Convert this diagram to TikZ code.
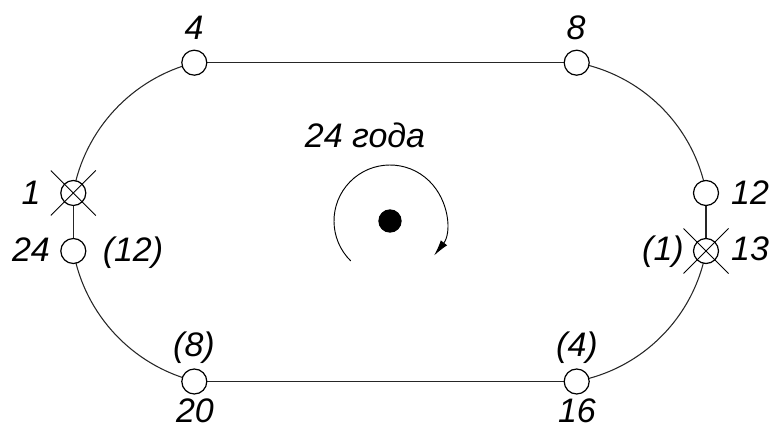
\documentclass[tikz,border=0pt]{standalone}
\usepackage{fontspec}
\setmainfont{Liberation Sans}
\usetikzlibrary{arrows.meta}
\begin{document}
\begin{tikzpicture}[x=0.75pt,y=0.75pt,
  track/.style={line width=0.8pt, black!85},
  stn/.style={circle, draw, fill=white, line width=0.9pt, minimum size=18.75pt, inner sep=0pt},
  xline/.style={line width=0.6pt},
  lbl/.style={anchor=base, inner sep=0pt, font=\fontsize{25.5}{30}\selectfont\itshape}]
\useasboundingbox (0,0) rectangle (772,429);
% station positions
\coordinate (c4) at (194.3,366.3);
\coordinate (c8) at (576.7,366.3);
\coordinate (c1) at (73.3,236);
\coordinate (c24) at (73.3,178);
\coordinate (c20) at (194.3,47.5);
\coordinate (c16) at (576.7,47.5);
\coordinate (c12) at (706,236);
\coordinate (c13) at (706,178);
% track
\draw[track] (c4) -- (c8);
\draw[track] (c20) -- (c16);
\draw[track] (c4) arc[start angle=104.3, end angle=169.8, radius=164.2];
\draw[track] (c1) -- (c24);
\draw[track] (c24) arc[start angle=190.2, end angle=255.7, radius=164.2];
\draw[track] (c8) arc[start angle=79.4, end angle=10.3, radius=162];
\draw[track] (c12) -- (c13);
\draw[track] (c13) arc[start angle=-10.3, end angle=-79.4, radius=162];
% stations
\node[stn] (n4) at (c4) {};
\node[stn] (n8) at (c8) {};
\node[stn] (n1) at (c1) {};
\node[stn] (n24) at (c24) {};
\node[stn] (n20) at (c20) {};
\node[stn] (n16) at (c16) {};
\node[stn] (n12) at (c12) {};
\node[stn] (n13) at (c13) {};
% crosses
\draw[xline] ([shift={(-22.5,22.5)}]n1.center) -- ([shift={(22.5,-22.5)}]n1.center);
\draw[xline] ([shift={(-22.5,-22.5)}]n1.center) -- ([shift={(22.5,22.5)}]n1.center);
\draw[xline] ([shift={(-22.5,22.5)}]n13.center) -- ([shift={(22.5,-22.5)}]n13.center);
\draw[xline] ([shift={(-22.5,-22.5)}]n13.center) -- ([shift={(22.5,22.5)}]n13.center);
% centre and rotation
\node[circle, fill=black, minimum size=17.5pt, inner sep=0pt] (dot) at (390,208) {};
\draw[line width=0.7pt, -{Latex[length=12pt,width=6pt]}]
  ([shift={(-134.5:56)}]dot.center) arc[start angle=-134.5, end angle=-398, radius=56];
% labels
\node[lbl] (l4) at (194,389) {4};
\node[lbl] (l8) at (576,389) {8};
\node[lbl] (l1) at (31,224) {1};
\node[lbl] (l24) at (31,167) {24};
\node[lbl] (l12p) at (133,167) {(12)};
\node[lbl] (l12) at (750,224) {12};
\node[lbl] (l13) at (750,168) {13};
\node[lbl] (l1p) at (663,168) {(1)};
\node[lbl] (l8p) at (194,73) {(8)};
\node[lbl] (l20) at (195,7) {20};
\node[lbl] (l4p) at (577,73) {(4)};
\node[lbl] (l16) at (577,7) {16};
\node[lbl] (title) at (365,281) {24 года};
\end{tikzpicture}
\end{document}
